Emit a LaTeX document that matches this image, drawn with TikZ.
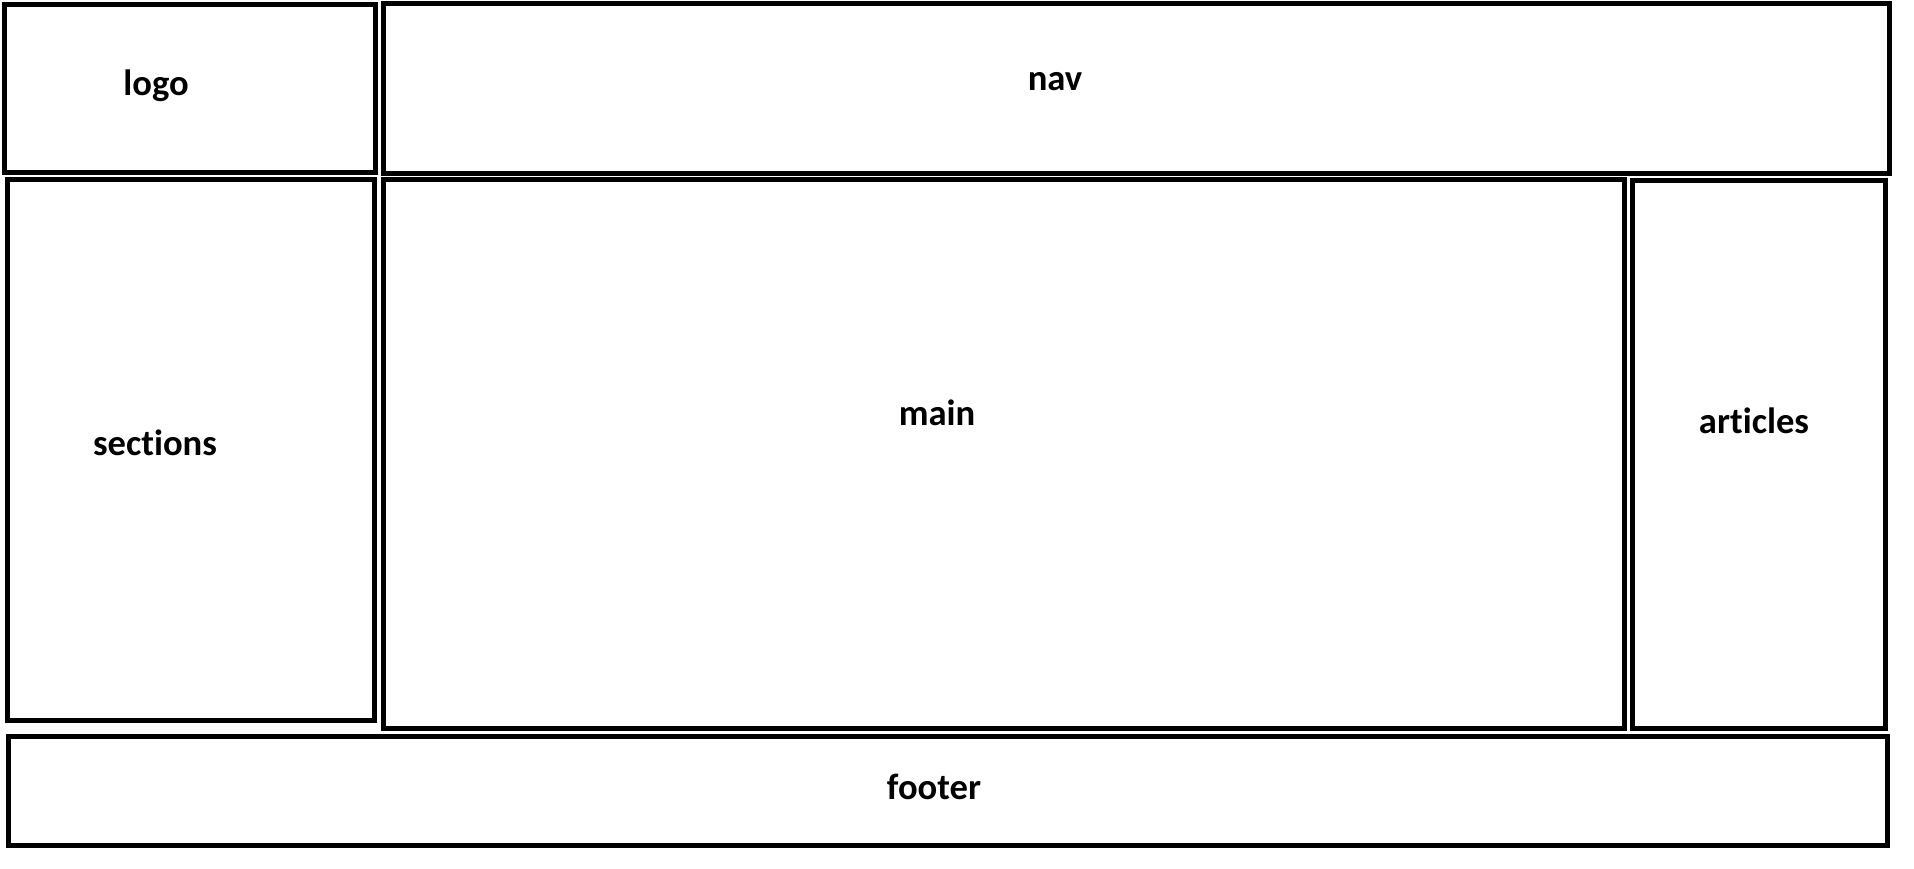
\documentclass[tikz,border=0pt]{standalone}
\usepackage{fontspec}
\setmainfont[Ligatures=NoCommon]{Carlito}
\begin{document}
\begin{tikzpicture}[x=1pt,y=-1pt,
  region/.style={draw=black,line width=5pt},
  lbl/.style={anchor=base,inner sep=0pt,font=\fontsize{36.6}{44}\selectfont\bfseries}]
\useasboundingbox[fill=white] (0,0) rectangle (1914,868);
\draw[region] (4.5,4.5) rectangle (375,172.5);
\draw[region] (383.5,3.5) rectangle (1889,173);
\draw[region] (7.5,179) rectangle (374.5,720);
\draw[region] (383.5,179) rectangle (1624.5,728.5);
\draw[region] (1632.5,180) rectangle (1885.5,728.5);
\draw[region] (8.5,736.5) rectangle (1887.5,845.5);
\node[lbl] (logo) at (156,95) {logo};
\node[lbl] (nav) at (1055,90) {nav};
\node[lbl] (sections) at (155,455) {sections};
\node[lbl] (main) at (937,425) {main};
\node[lbl] (articles) at (1754,433) {articles};
\node[lbl] (footer) at (934,799) {footer};
\end{tikzpicture}
\end{document}
